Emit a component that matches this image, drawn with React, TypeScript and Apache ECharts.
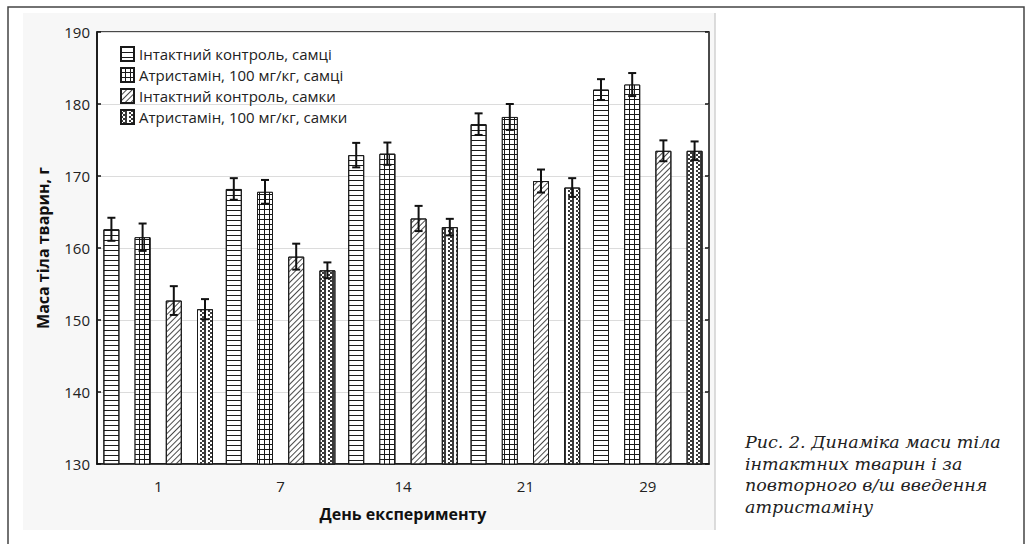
import React, { useEffect, useRef } from "react";
import * as echarts from "echarts";

const categories = ["1", "7", "14", "21", "29"];
const seriesNames = [
  "Інтактний контроль, самці",
  "Атристамін, 100 мг/кг, самці",
  "Інтактний контроль, самки",
  "Атристамін, 100 мг/кг, самки",
];
const maleCtrl = [162.6, 168.2, 172.9, 177.2, 182.0];
const maleCtrlErr = [1.6, 1.5, 1.7, 1.5, 1.45];
const maleAtr = [161.5, 167.8, 173.1, 178.2, 182.7];
const maleAtrErr = [1.9, 1.65, 1.55, 1.8, 1.6];
const femCtrl = [152.7, 158.8, 164.1, 169.3, 173.5];
const femCtrlErr = [2.0, 1.8, 1.75, 1.6, 1.45];
const femAtr = [151.5, 156.9, 162.9, 168.4, 173.5];
const femAtrErr = [1.4, 1.1, 1.15, 1.3, 1.3];
const yTicks = { min: 130, max: 190, interval: 10 };
const caption = [
  "Рис. 2. Динаміка маси тіла",
  "інтактних тварин і за",
  "повторного в/ш введення",
  "атристаміну",
];

const BAR_W = 16;
const BAR_GAP = 0.95;

export default function App() {
  const ref = useRef<HTMLDivElement>(null);
  useEffect(() => {
    document.body.style.margin = "0";
    const chart = echarts.init(ref.current!, null, { renderer: "svg" });
    const values = [maleCtrl, maleAtr, femCtrl, femAtr];
    const errs = [maleCtrlErr, maleAtrErr, femCtrlErr, femAtrErr];
    const step = BAR_W * (1 + BAR_GAP);
    const font = "'Open Sans', sans-serif";

    const decals: any[] = [
      { symbol: "rect", color: "#1a1a1a", dashArrayX: [1, 0], dashArrayY: [1, 4], symbolSize: 1, rotation: 0 },
      { symbol: "rect", color: "#ffffff", dashArrayX: [4, 1], dashArrayY: [4, 1], symbolSize: 1, rotation: 0 },
      { symbol: "rect", color: "#4a4a4a", dashArrayX: [1, 0], dashArrayY: [1, 3], symbolSize: 1, rotation: -Math.PI / 4 },
      { symbol: "rect", color: "#3a3a3a", dashArrayX: [[2, 2], [0, 2, 2]], dashArrayY: [2, 0], symbolSize: 1, rotation: 0 },
    ];
    const fills = ["#ffffff", "#1a1a1a", "#ffffff", "#ffffff"];

    const barSeries = values.map((v, i) => ({
      name: seriesNames[i],
      type: "bar",
      data: v,
      barWidth: BAR_W,
      barGap: BAR_GAP * 100 + "%",
      itemStyle: { color: fills[i], borderColor: "#1a1a1a", borderWidth: 1, decal: decals[i] },
      z: 3,
    }));

    const errSeries = values.map((v, i) => ({
      type: "custom",
      name: "err" + i,
      data: v.map((val, j) => [j, val, errs[i][j]]),
      encode: { x: 0, y: 1 },
      z: 5,
      silent: true,
      renderItem: (params: any, api: any) => {
        const idx = api.value(0);
        const val = api.value(1);
        const e = api.value(2);
        const off = (i - 1.5) * step;
        const top = api.coord([idx, val + e]);
        const bot = api.coord([idx, val - e]);
        const x = top[0] + off;
        const cap = 4;
        const st = { stroke: "#111", lineWidth: 2 };
        return {
          type: "group",
          children: [
            { type: "line", shape: { x1: x, y1: top[1], x2: x, y2: bot[1] }, style: st },
            { type: "line", shape: { x1: x - cap, y1: top[1], x2: x + cap, y2: top[1] }, style: st },
            { type: "line", shape: { x1: x - cap, y1: bot[1], x2: x + cap, y2: bot[1] }, style: st },
          ],
        };
      },
    }));

    const option: any = {
      animation: false,
      textStyle: { fontFamily: font },
      graphic: [
        { type: "rect", z: -10, shape: { x: 8, y: 7, width: 1016, height: 540 }, style: { fill: "#fff", stroke: "#444", lineWidth: 1.5 } },
        { type: "rect", z: -9, shape: { x: 23, y: 13, width: 692, height: 517 }, style: { fill: "#f7f7f7", stroke: "none" } },
        { type: "line", z: -8, shape: { x1: 715, y1: 13, x2: 715, y2: 530 }, style: { stroke: "#d0d0d0", lineWidth: 1.5 } },
        {
          type: "text",
          left: 745,
          top: 431,
          style: {
            text: caption.join("\n"),
            font: "italic 17.5px 'DejaVu Serif', serif",
            lineHeight: 21.7,
            fill: "#222",
          },
        },
      ],
      legend: {
        orient: "vertical",
        left: 115,
        top: 41,
        itemWidth: 13,
        itemHeight: 14,
        itemGap: 5,
        data: seriesNames,
        textStyle: { fontSize: 15, color: "#222", fontFamily: font },
        icon: "rect",
        selectedMode: false,
      },
      grid: {
        left: 97,
        top: 32,
        width: 612,
        height: 432,
        show: true,
        backgroundColor: "#fff",
        borderColor: "#111",
        borderWidth: 1.5,
      },
      xAxis: [
        {
          type: "category",
          data: categories,
          position: "bottom",
          axisLine: { lineStyle: { color: "#111", width: 1.5 } },
          axisTick: { inside: true, alignWithLabel: true, length: 4, lineStyle: { color: "#111", width: 1.5 } },
          axisLabel: { fontSize: 15, color: "#222", margin: 14, fontFamily: font },
          name: "День експерименту",
          nameLocation: "middle",
          nameGap: 42,
          nameTextStyle: { fontSize: 16, fontWeight: "bold", color: "#111", fontFamily: font },
        },
        {
          type: "category",
          data: categories,
          position: "top",
          axisLine: { show: false },
          axisTick: { inside: true, alignWithLabel: true, length: 4, lineStyle: { color: "#111", width: 1.5 } },
          axisLabel: { show: false },
        },
      ],
      yAxis: [
        {
          type: "value",
          min: yTicks.min,
          max: yTicks.max,
          interval: yTicks.interval,
          axisLine: { show: true, lineStyle: { color: "#111", width: 1.5 } },
          axisTick: { show: true, inside: true, length: 4, lineStyle: { color: "#111", width: 1.5 } },
          axisLabel: { fontSize: 15, color: "#222", margin: 7, fontFamily: font },
          splitLine: { lineStyle: { color: "#dcdcdc", width: 1.2 } },
          name: "Маса тіла тварин, г",
          nameLocation: "middle",
          nameGap: 46,
          nameTextStyle: { fontSize: 16, fontWeight: "bold", color: "#111", fontFamily: font },
        },
        {
          type: "value",
          position: "right",
          min: yTicks.min,
          max: yTicks.max,
          interval: yTicks.interval,
          axisLine: { show: false },
          axisTick: { show: true, inside: true, length: 4, lineStyle: { color: "#111", width: 1.5 } },
          axisLabel: { show: false },
          splitLine: { show: false },
        },
      ],
      series: [...barSeries, ...errSeries],
    };
    chart.setOption(option);
    return () => chart.dispose();
  }, []);
  return <div ref={ref} style={{ width: 1026, height: 544 }} />;
}
